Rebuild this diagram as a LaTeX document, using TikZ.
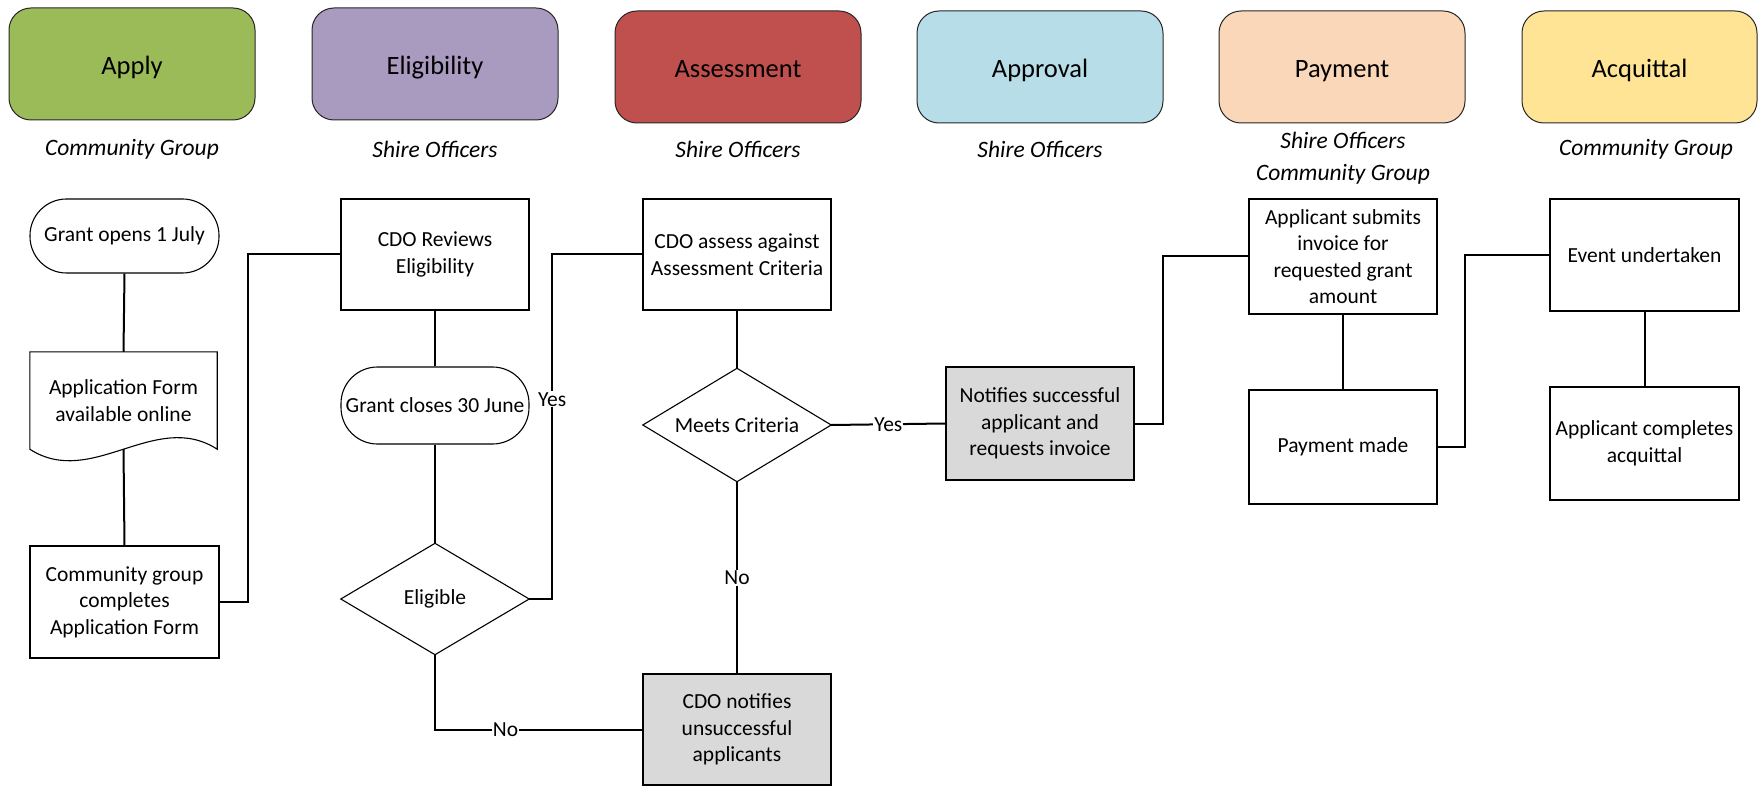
\documentclass[tikz,border=0pt]{standalone}
\usepackage{fontspec}
\setmainfont{Carlito}
\definecolor{cApply}{HTML}{9BBB59}
\definecolor{cElig}{HTML}{A99AC0}
\definecolor{cAss}{HTML}{C0504D}
\definecolor{cAppr}{HTML}{B7DDE8}
\definecolor{cPay}{HTML}{FAD7B8}
\definecolor{cAcq}{HTML}{FFE496}
\definecolor{cGray}{HTML}{D9D9D9}
\begin{document}
\begin{tikzpicture}[x=1pt,y=-1pt,
  head/.style={draw=black!85, line width=1pt, rounded corners=22pt, minimum width=246pt, minimum height=112pt, inner sep=0pt, text height=21pt, text depth=0pt, font=\fontsize{26.5}{30}\selectfont},
  role/.style={align=center, inner sep=0pt, font=\fontsize{23.5}{32}\selectfont\itshape},
  proc/.style={draw, line width=1.1pt, rectangle, minimum width=188pt, inner sep=2pt, align=center, font=\fontsize{21.5}{26.5}\selectfont},
  term/.style={proc, rounded corners=36.5pt},
  grayproc/.style={proc, fill=cGray},
  plain/.style={minimum width=188pt, inner sep=0pt, align=center, font=\fontsize{21.5}{26.5}\selectfont},
  shapeline/.style={line width=1.1pt},
  conn/.style={line width=2pt},
  lbl/.style={fill=white, inner sep=1pt, font=\fontsize{21.5}{26}\selectfont}
]
\useasboundingbox (0,0) rectangle (1759,786);

% header boxes
\node[head, fill=cApply] (hApply) at (132,64) {Apply};
\node[head, fill=cElig] (hElig) at (435,64) {Eligibility};
\node[head, fill=cAss] (hAss) at (738,67) {Assessment};
\node[head, fill=cAppr] (hAppr) at (1040,67) {Approval};
\node[head, fill=cPay] (hPay) at (1342,67) {Payment};
\node[head, fill=cAcq, minimum width=235pt] (hAcq) at (1639.5,67) {Acquittal};

% roles
\node[role] (rApply) at (132,149.5) {Community Group};
\node[role] (rElig) at (435,149.5) {Shire Officers};
\node[role] (rAss) at (738,149.5) {Shire Officers};
\node[role] (rAppr) at (1040,149.5) {Shire Officers};
\node[role] (rPay) at (1343,158) {Shire Officers\\Community Group};
\node[role] (rAcq) at (1646,149.5) {Community Group};

% Apply column
\node[term, minimum width=189pt, minimum height=74pt] (open) at (124.5,236) {Grant opens 1 July};
\node[plain, minimum width=187pt, minimum height=97pt] (doc) at (123.5,400.5) {Application Form\\available online};
\draw[shapeline] (doc.south west) -- (doc.north west) -- (doc.north east) -- (doc.south east)
  .. controls +(-62,-40) and +(62,40) .. (doc.south west) -- cycle;
\node[proc, minimum width=189pt, minimum height=112pt] (comp) at (124.5,602) {Community group\\completes\\Application Form};

% Eligibility column
\node[proc, minimum height=111pt] (rev) at (435,254.5) {CDO Reviews\\Eligibility};
\node[term, minimum height=77pt] (close) at (435,405.5) {Grant closes 30 June};
\node[plain, minimum height=111pt] (elig) at (435,599) {Eligible};
\draw[shapeline] (elig.north) -- (elig.east) -- (elig.south) -- (elig.west) -- cycle;

% Assessment column
\node[proc, minimum height=111pt] (ass) at (737,254.5) {CDO assess against\\Assessment Criteria};
\node[plain, minimum height=113pt] (meets) at (737,425) {Meets Criteria};
\draw[shapeline] (meets.north) -- (meets.east) -- (meets.south) -- (meets.west) -- cycle;
\node[grayproc, minimum height=111pt] (unsucc) at (737,729.5) {CDO notifies\\unsuccessful\\applicants};

% Approval column
\node[grayproc, minimum height=113pt] (succ) at (1040,423.5) {Notifies successful\\applicant and\\requests invoice};

% Payment column
\node[proc, minimum height=115pt] (inv) at (1343,256.5) {Applicant submits\\invoice for\\requested grant\\amount};
\node[proc, minimum height=114pt] (paid) at (1343,447) {Payment made};

% Acquittal column
\node[proc, minimum width=189pt, minimum height=112pt] (event) at (1644.5,255) {Event undertaken};
\node[proc, minimum width=189pt, minimum height=113pt] (acq) at (1644.5,443.5) {Applicant completes\\acquittal};

% connectors
\draw[conn] (open.south) -- (doc.north);
\draw[conn] (doc.south) -- (comp.north);
\draw[conn] (comp.east) -- ++(28,0) |- (rev.west);
\draw[conn] (rev.south) -- (close.north);
\draw[conn] (close.south) -- (elig.north);
\draw[conn] (elig.east) -- ++(23,0) |- node[lbl, pos=0.29] {Yes} (ass.west);
\draw[conn] (elig.south) |- node[lbl, pos=0.67] {No} (unsucc.west);
\draw[conn] (ass.south) -- (meets.north);
\draw[conn] (meets.south) -- node[lbl] {No} (unsucc.north);
\draw[conn] (meets.east) -- node[lbl] {Yes} (succ.west);
\draw[conn] (succ.east) -- ++(28,0) |- (inv.west);
\draw[conn] (inv.south) -- (paid.north);
\draw[conn] (paid.east) -- ++(27,0) |- (event.west);
\draw[conn] (event.south) -- (acq.north);
\end{tikzpicture}
\end{document}
